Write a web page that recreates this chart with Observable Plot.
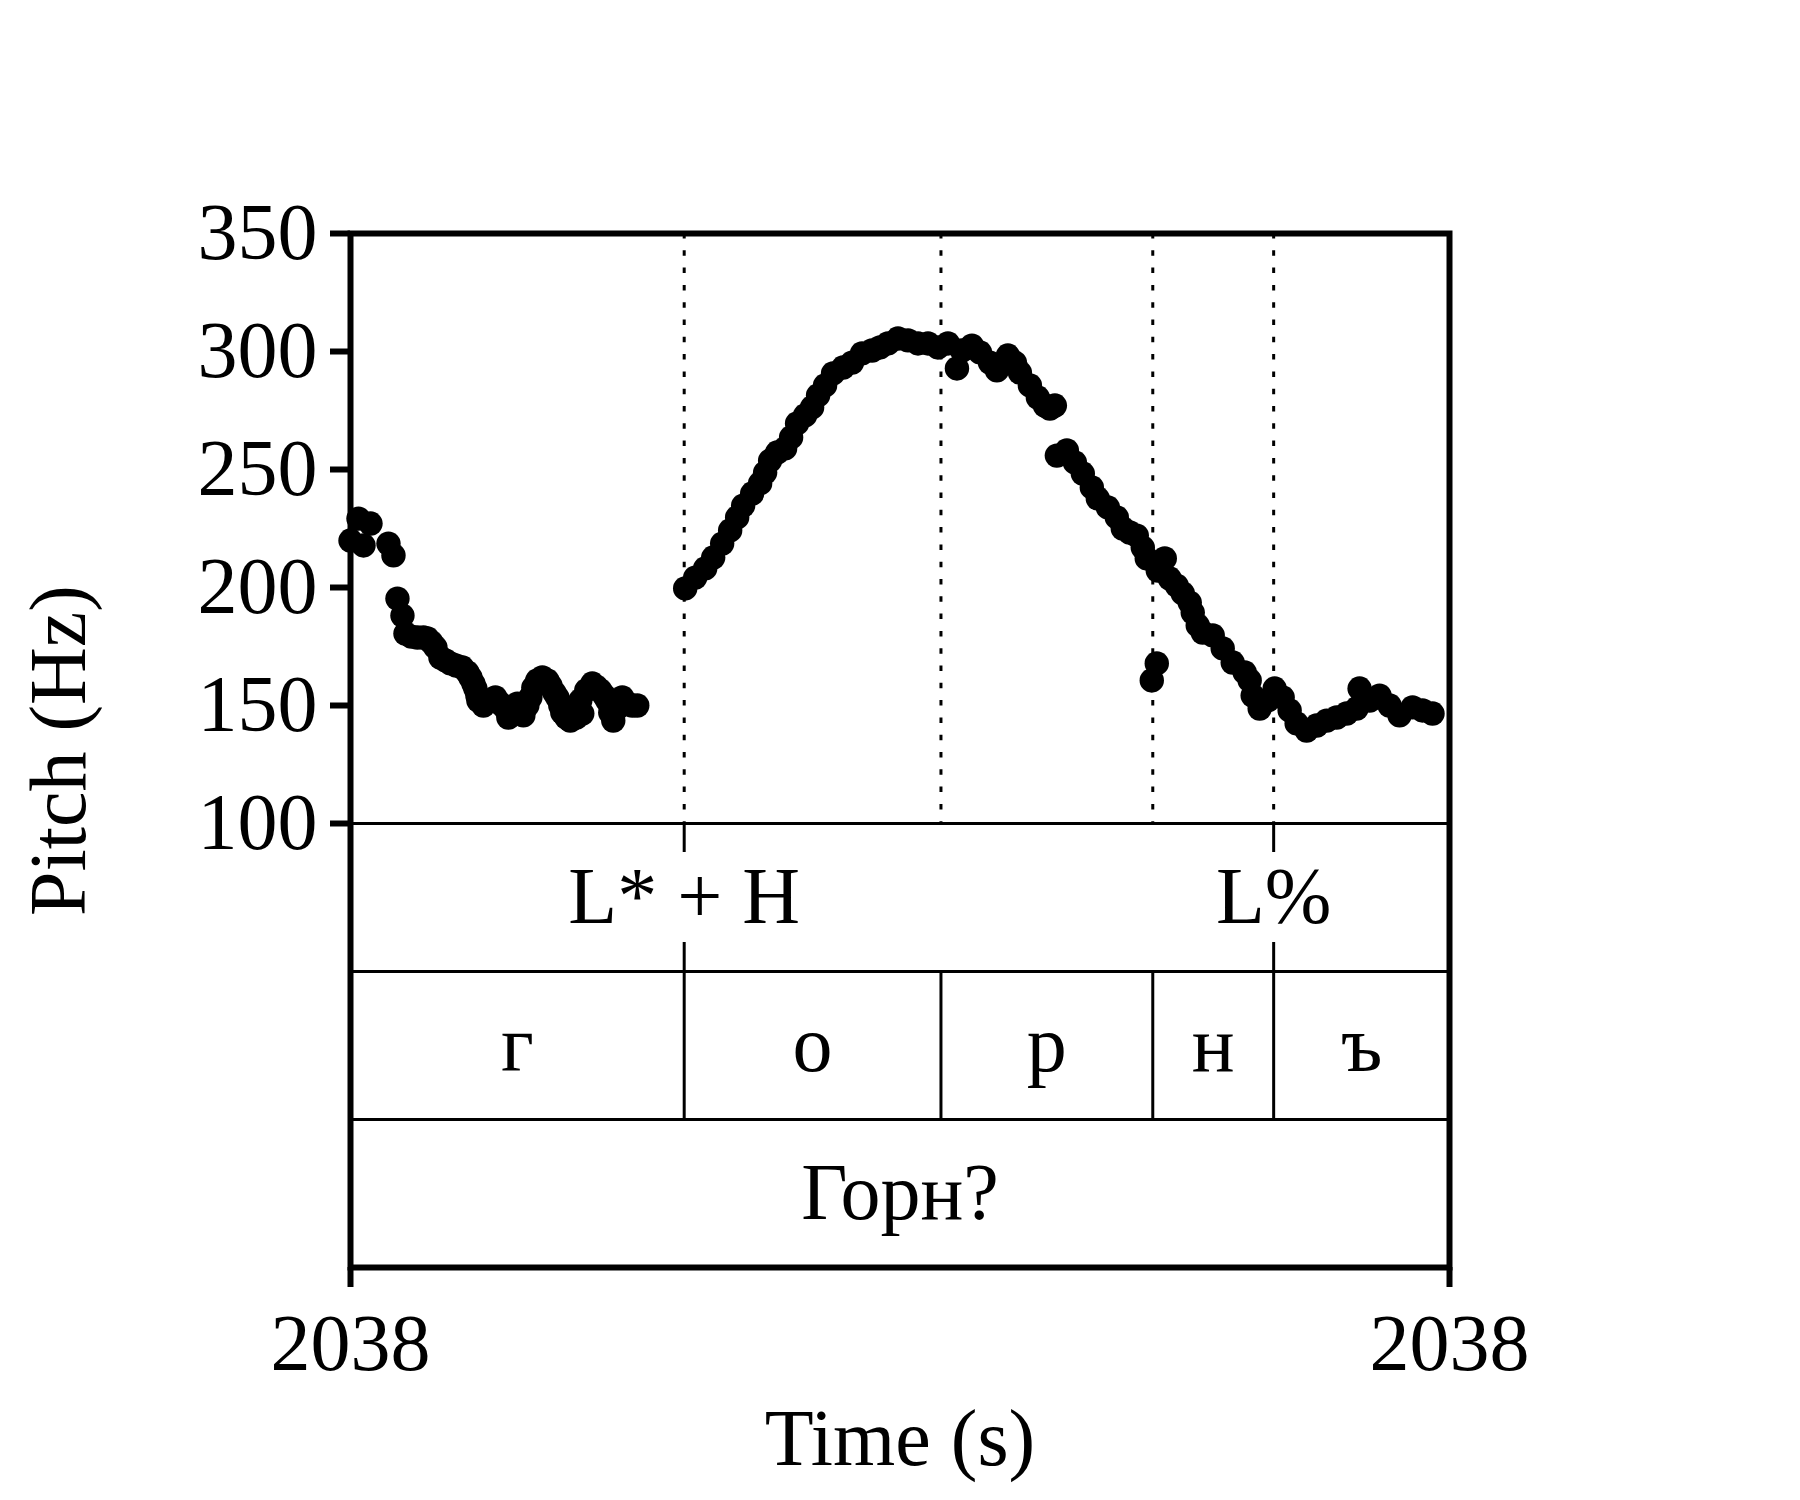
<!DOCTYPE html>
<html>
<head>
<meta charset="utf-8">
<script src="https://cdn.jsdelivr.net/npm/d3@7"></script>
<script src="https://cdn.jsdelivr.net/npm/@observablehq/plot@0.6"></script>
<style>
  html, body { margin: 0; padding: 0; background: #ffffff; }
  #chart svg { display: block; }
</style>
</head>
<body>
<div id="chart"></div>
<script>
// ---- time window (s) ----
const startTime = 2037.75;
const endTime = 2038.30;

// ---- pitch track: ms after startTime, Hz ----
const pitchMs = [
  0, 4, 6.5, 10, 19, 21.5,
  23.5, 26, 27.5, 30.5, 33.5, 36.5, 38.5, 40.5, 42.5, 45, 47.5, 50, 53, 56, 58.5, 60, 61.5, 62.5, 63.5, 64,
  66.5, 69.5, 72.5, 75, 77.5, 79, 81.5, 83.5, 86.5, 88.5, 90, 91.5, 93.5, 96, 98.5, 100, 102, 103.5, 105,
  106, 108, 110, 113, 115, 116, 118, 121, 123, 125, 127, 128.5, 130, 131.5, 134, 136, 138.5, 141, 143.5,
  167.5, 172.5, 177.5, 181.5, 186, 190, 193.5, 196.5, 201, 205, 207.5, 210, 213.5, 217.5, 220.5, 223.5,
  227.5, 231, 234, 237.5, 241.5, 246.5, 251, 256, 261, 265, 269, 274, 279, 284, 289, 294, 299, 303.5,
  306, 311, 315, 320, 323.5, 329, 332.5, 335, 340, 344, 347.5, 350, 352.5,
  353.5, 358.5, 362.5, 366.5, 371, 374, 379, 383.5, 386.5, 390, 393.5, 396.5, 398.5,
  401, 403.5,
  404, 407.5, 410, 413.5, 416.5, 420, 421.5, 424, 426.5, 431.5, 436.5, 441.5, 447.5, 450, 451.5, 455,
  459, 462.5, 466.5, 470, 473.5, 478.5, 483.5, 488.5, 493.5, 498.5, 503.5, 505, 510, 515, 520, 525,
  531.5, 536.5, 541.5
];
const pitchHz = [
  219.9, 229.2, 217.8, 227.1, 218.6, 213.6,
  195.3, 188.1, 180.5, 179.2, 178.8, 178.8, 178.4, 176.7, 174.6, 170.3, 169.1, 167.8, 166.9, 166.1, 164.0, 161.9, 159.3, 157.2, 154.2, 152.1,
  150.0, 152.1, 153.4, 150.8, 148.7, 144.9, 147.0, 150.8, 145.8, 150.0, 153.4, 157.6, 160.6, 161.9, 160.6, 158.5, 155.5, 153.4, 150.0,
  147.0, 144.9, 143.6, 144.9, 152.1, 146.6, 156.4, 159.3, 158.0, 156.4, 154.2, 152.1, 147.0, 143.6, 149.2, 153.4, 150.8, 150.0, 150.0,
  199.6, 204.2, 208.1, 212.7, 218.6, 224.2, 229.7, 234.7, 239.8, 244.1, 248.7, 253.8, 257.2, 258.9, 263.6, 269.5,
  272.9, 276.3, 281.4, 285.6, 290.7, 293.2, 295.3, 299.2, 300.4, 301.7, 303.4, 305.5, 304.7, 303.4, 303.4, 301.7, 303.4, 292.8,
  300.4, 302.5, 299.6, 295.3, 292.0, 298.3, 295.3, 291.1, 285.6, 280.5, 277.1, 275.8, 277.1,
  255.9, 258.1, 253.0, 248.3, 242.4, 237.7, 233.9, 229.7, 225.0, 223.3, 222.0, 216.9, 212.3,
  160.6, 167.8,
  207.2, 212.3, 203.8, 200.8, 197.5, 193.6, 189.4, 183.9, 180.9, 179.7, 174.2, 168.2, 164.0, 160.6, 154.2, 148.7,
  152.1, 157.2, 153.4, 147.9, 142.4, 139.4, 141.5, 143.6, 144.9, 146.6, 148.7, 157.2, 152.1, 154.2, 150.0, 145.8,
  149.2, 147.9, 146.6
];

// ---- tiers ----
const tonePointsMs = [167, 462];
const toneLabels = ["L* + H", "L%"];
const segBoundsMs = [0, 167, 295.5, 401.5, 462, 550];
const segLabels = ["г", "о", "р", "н", "ъ"];
const wordBoundsMs = [0, 550];
const wordLabels = ["Горн?"];

// ---- axes ----
const yTicks = [100, 150, 200, 250, 300, 350];
const pitchMin = 100, pitchMax = 350;
const xLabel = "Time (s)";
const yLabel = "Pitch (Hz)";

// ---- build tables ----
const toT = ms => startTime + ms / 1000;
const pitch = pitchMs.map((m, i) => ({t: toT(m), hz: pitchHz[i]}));

// tiers sit below the pitch panel; each tier is ~0.251 of the pitch range tall
const tierH = (pitchMax - pitchMin) * 148 / 590;
const tierTop = i => pitchMin - i * tierH;
const yBottom = tierTop(3);

const tones = tonePointsMs.map((m, i) => ({t: toT(m), label: toneLabels[i]}));
const segs = segLabels.map((s, i) => ({
  t: toT((segBoundsMs[i] + segBoundsMs[i + 1]) / 2), label: s
}));
const segInner = segBoundsMs.slice(1, -1).map(toT);
const words = wordLabels.map((w, i) => ({
  t: toT((wordBoundsMs[i] + wordBoundsMs[i + 1]) / 2), label: w
}));
const allBoundaries = Array.from(new Set([...segBoundsMs.slice(1, -1), ...tonePointsMs])).map(toT);

const FONT = "Liberation Serif, Times New Roman, serif";
const FS = 80;
const tickFrac = 29 / 148;

const chart = Plot.plot({
  width: 1800,
  height: 1500,
  marginLeft: 350,
  marginRight: 351,
  marginTop: 233,
  marginBottom: 233,
  style: {fontFamily: FONT, fontSize: FS + "px", background: "#ffffff", color: "#000000"},
  x: {domain: [startTime, endTime]},
  y: {domain: [yBottom, pitchMax]},
  marks: [
    // tier separators
    Plot.ruleY([tierTop(0), tierTop(1), tierTop(2)], {stroke: "black", strokeWidth: 3}),
    // dotted boundary lines in the pitch panel
    Plot.ruleX(allBoundaries, {x: d => d, y1: pitchMax, y2: pitchMin, stroke: "black", strokeWidth: 3, strokeDasharray: "5.5 11.8"}),
    // segment tier boundaries
    Plot.ruleX(segInner, {x: d => d, y1: tierTop(1), y2: tierTop(2), stroke: "black", strokeWidth: 3}),
    // tone point marks (top and bottom ticks)
    Plot.ruleX(tones, {x: "t", y1: tierTop(0), y2: tierTop(0) - tickFrac * tierH, stroke: "black", strokeWidth: 3}),
    Plot.ruleX(tones, {x: "t", y1: tierTop(1) + tickFrac * tierH, y2: tierTop(1), stroke: "black", strokeWidth: 3}),
    // tier labels
    Plot.text(tones, {x: "t", y: tierTop(0) - tierH / 2, text: "label", fontSize: FS, fontFamily: FONT, fill: "black", lineAnchor: "middle"}),
    Plot.text(segs, {x: "t", y: tierTop(1) - tierH / 2, text: "label", fontSize: FS, fontFamily: FONT, fill: "black", lineAnchor: "middle"}),
    Plot.text(words, {x: "t", y: tierTop(2) - tierH / 2, text: "label", fontSize: FS, fontFamily: FONT, fill: "black", lineAnchor: "middle"}),
    // pitch dots
    Plot.dot(pitch, {x: "t", y: "hz", r: 12.2, fill: "black", stroke: "none"}),
    // frame
    Plot.frame({stroke: "black", strokeWidth: 6}),
    // axes
    Plot.axisY(yTicks, {tickSize: 20, tickPadding: 13, strokeWidth: 6, fontSize: FS, fontFamily: FONT, label: null, tickFormat: d => String(d)}),
    Plot.axisX([startTime, endTime], {tickSize: 20, tickPadding: 26, strokeWidth: 6, fontSize: FS, fontFamily: FONT, label: null, tickFormat: d3.format(".0f")}),
    // axis titles
    Plot.text([xLabel], {frameAnchor: "bottom", textAnchor: "middle", text: d => d, dy: 197, lineAnchor: "bottom", fontSize: FS, fontFamily: FONT, fill: "black"}),
    Plot.text([yLabel], {frameAnchor: "left", textAnchor: "middle", text: d => d, dx: -266, rotate: -90, lineAnchor: "bottom", fontSize: FS, fontFamily: FONT, fill: "black"})
  ]
});

document.getElementById("chart").appendChild(chart);
</script>
</body>
</html>
